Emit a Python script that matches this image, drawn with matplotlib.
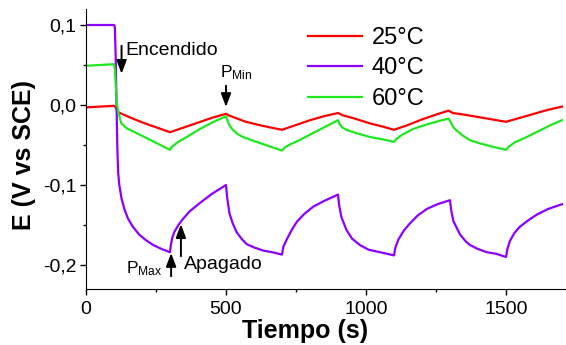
import matplotlib
matplotlib.use('Agg')
import matplotlib.pyplot as plt
from matplotlib.ticker import MultipleLocator, FuncFormatter

plt.rcParams['font.family'] = ['Liberation Sans', 'DejaVu Sans']
plt.rcParams['mathtext.fontset'] = 'custom'
plt.rcParams['mathtext.rm'] = 'Liberation Sans'
plt.rcParams['mathtext.it'] = 'Liberation Sans:italic'
plt.rcParams['mathtext.bf'] = 'Liberation Sans:bold'

# --- data (time in s, potential in V vs SCE) ---
t_25 = [0, 100, 106, 112, 121, 160, 210, 260, 300, 350, 400, 450, 500, 510, 540, 571,
        630, 700, 750, 800, 850, 900, 918, 960, 1014, 1060, 1100, 1150, 1200, 1250,
        1295, 1310, 1350, 1400, 1450, 1500, 1550, 1600, 1650, 1700]
e_25 = [-0.003, -0.001, -0.003, -0.008, -0.010, -0.016, -0.023, -0.029, -0.034, -0.028,
        -0.022, -0.016, -0.011, -0.013, -0.017, -0.021, -0.026, -0.031, -0.025, -0.019,
        -0.014, -0.010, -0.013, -0.017, -0.023, -0.027, -0.031, -0.025, -0.018, -0.012,
        -0.007, -0.010, -0.012, -0.015, -0.018, -0.021, -0.016, -0.011, -0.006, -0.002]

t_40 = [0, 100, 103, 106, 109, 112, 115, 119, 127, 137, 150, 167, 190, 214, 240, 270, 300,
        303, 308, 315, 330, 345, 370, 405, 450, 500,
        504, 512, 524, 538, 555, 574, 600, 633, 665, 700,
        705, 717, 735, 753, 780, 812, 850, 900,
        904, 912, 930, 950, 978, 1010, 1050, 1100,
        1105, 1116, 1135, 1157, 1185, 1217, 1255, 1300,
        1304, 1312, 1336, 1355, 1371, 1400, 1431, 1465, 1500,
        1505, 1514, 1530, 1550, 1580, 1610, 1650, 1700]
e_40 = [0.100, 0.100, 0.098, 0.060, 0.000, -0.055, -0.085, -0.100, -0.117, -0.130, -0.142,
        -0.152, -0.162, -0.169, -0.175, -0.180, -0.184,
        -0.175, -0.166, -0.159, -0.150, -0.143, -0.133, -0.123, -0.111, -0.100,
        -0.115, -0.135, -0.148, -0.159, -0.167, -0.174, -0.178, -0.182, -0.184, -0.187,
        -0.177, -0.168, -0.156, -0.146, -0.136, -0.127, -0.120, -0.112,
        -0.125, -0.140, -0.156, -0.167, -0.175, -0.181, -0.184, -0.188,
        -0.178, -0.168, -0.157, -0.148, -0.138, -0.130, -0.124, -0.119,
        -0.131, -0.145, -0.162, -0.170, -0.175, -0.180, -0.184, -0.186, -0.190,
        -0.180, -0.170, -0.160, -0.152, -0.144, -0.137, -0.130, -0.124]

t_60 = [0, 100, 103, 107, 111, 115, 118, 122, 127, 135, 145, 180, 220, 260, 300,
        305, 315, 330, 360, 407, 450, 500,
        505, 512, 524, 540, 560, 600, 650, 700,
        710, 730, 762, 800, 850, 900,
        906, 915, 930, 964, 1014, 1060, 1100,
        1110, 1130, 1168, 1220, 1260, 1295,
        1303, 1312, 1324, 1345, 1371, 1407, 1450, 1500,
        1510, 1530, 1574, 1620, 1660, 1700]
e_60 = [0.049, 0.051, 0.045, 0.020, 0.000, -0.008, -0.012, -0.018, -0.023, -0.026, -0.029,
        -0.035, -0.042, -0.049, -0.056,
        -0.053, -0.050, -0.046, -0.040, -0.030, -0.022, -0.014,
        -0.019, -0.025, -0.031, -0.036, -0.040, -0.045, -0.051, -0.057,
        -0.053, -0.049, -0.044, -0.037, -0.028, -0.019,
        -0.024, -0.028, -0.031, -0.035, -0.040, -0.043, -0.046,
        -0.042, -0.037, -0.030, -0.024, -0.020, -0.017,
        -0.022, -0.028, -0.032, -0.038, -0.044, -0.048, -0.052, -0.056,
        -0.052, -0.047, -0.040, -0.032, -0.025, -0.019]

labels = ['25°C', '40°C', '60°C']
colors = ['#ff0000', '#8b00ff', '#1ee81e']

# --- figure ---
W, H = 566, 345
fig = plt.figure(figsize=(W / 100, H / 100), dpi=100)
x_max = 1715
ax = fig.add_axes([86 / W, 1 - 289 / H, x_max * 0.28 / W, 280 / H])

ax.plot(t_25, e_25, color=colors[0], lw=1.6, label=labels[0])
ax.plot(t_40, e_40, color=colors[1], lw=1.6, label=labels[1])
ax.plot(t_60, e_60, color=colors[2], lw=1.6, label=labels[2])

ax.set_xlim(0, x_max)
ax.set_ylim(-0.23, 0.12)
ax.spines['top'].set_visible(False)
ax.spines['right'].set_visible(False)
ax.xaxis.set_major_locator(MultipleLocator(500))
ax.xaxis.set_minor_locator(MultipleLocator(250))
ax.yaxis.set_major_locator(MultipleLocator(0.1))
ax.yaxis.set_minor_locator(MultipleLocator(0.05))
ax.yaxis.set_major_formatter(FuncFormatter(lambda v, p: f'{v:.1f}'.replace('.', ',')))
ax.tick_params(which='major', direction='out', length=4, width=1, labelsize=14)
ax.tick_params(which='minor', direction='out', length=2.5, width=1)
ax.tick_params(axis='x', pad=5)
ax.tick_params(axis='y', pad=3)

ax.set_xlabel('Tiempo (s)', fontsize=18, fontweight='bold')
ax.set_ylabel('E (V vs SCE)', fontsize=18, fontweight='bold')
ax.xaxis.set_label_coords(0.457, -0.15)
ax.xaxis.label.set_va('center')
ax.yaxis.set_label_coords(-0.129, 0.479)
ax.yaxis.label.set_va('center')

leg = ax.legend(loc='upper left', bbox_to_anchor=(296 / W, 1 - 15 / H),
                bbox_transform=fig.transFigure, frameon=False, fontsize=17,
                handlelength=2.3, handletextpad=0.4, labelspacing=0.36, borderpad=0)

# --- annotations ---
arrow = dict(arrowstyle='-|>,head_length=0.8,head_width=0.3', color='black', lw=1.4,
             mutation_scale=10, shrinkA=0, shrinkB=0)
ax.annotate('', xy=(127, 0.039), xytext=(127, 0.074), arrowprops=arrow)
ax.text(139, 0.0625, 'Encendido', fontsize=14, va='baseline')

ax.annotate('', xy=(500, -0.0025), xytext=(500, 0.024), arrowprops=arrow)
ax.text(477, 0.035, r'P$_{\mathrm{Min}}$', fontsize=12.5, va='baseline')

ax.annotate('', xy=(304, -0.185), xytext=(304, -0.214), arrowprops=arrow)
ax.text(143, -0.21, r'P$_{\mathrm{Max}}$', fontsize=12.5, va='baseline')

ax.annotate('', xy=(339, -0.149), xytext=(339, -0.189), arrowprops=arrow)
ax.text(350, -0.205, 'Apagado', fontsize=14, va='baseline')

fig.savefig('out.png', dpi=100)
